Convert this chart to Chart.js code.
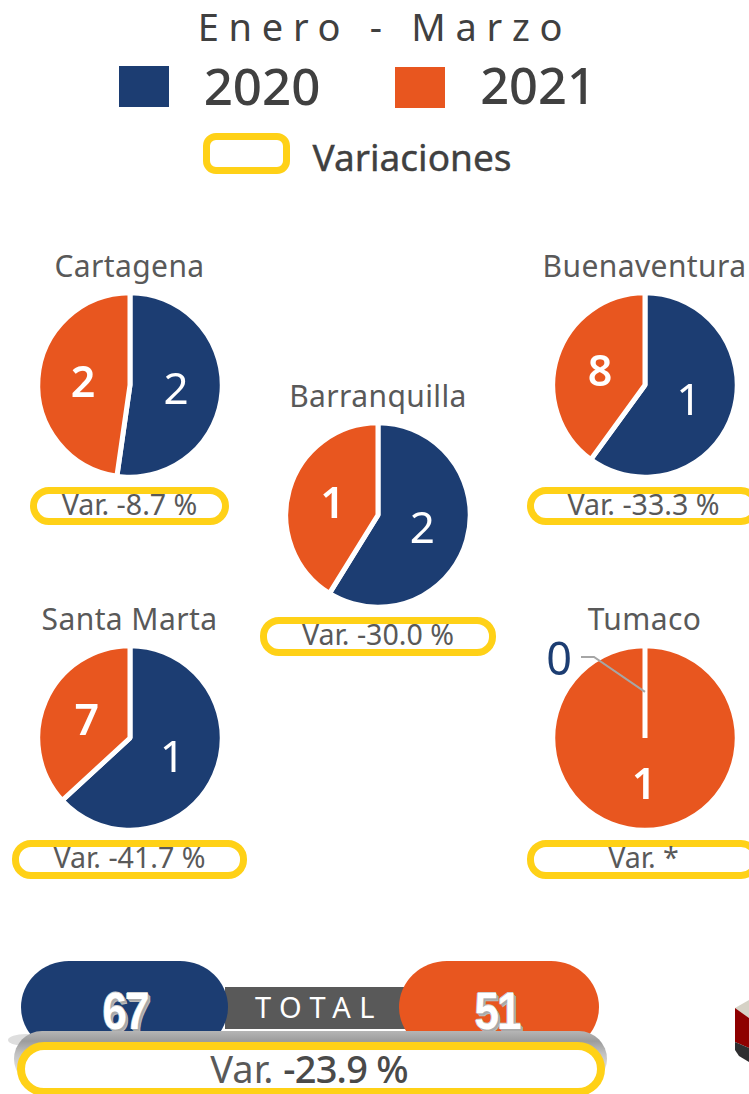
<!DOCTYPE html>
<html lang="es">
<head>
<meta charset="utf-8">
<script src="https://cdn.jsdelivr.net/npm/chart.js@4"></script>
<style>
html,body{margin:0;padding:0;background:#fff;}
body{width:749px;height:1094px;overflow:hidden;position:relative;font-family:"Noto Sans",sans-serif;}
.a{position:absolute;white-space:nowrap;}
.t{position:absolute;white-space:nowrap;transform:translateX(-50%);line-height:1;}
.pill{position:absolute;box-sizing:border-box;border:7px solid #FFD117;background:#fff;}
canvas{position:absolute;}
</style>
</head>
<body>
<script>
const cities = ["Cartagena","Barranquilla","Buenaventura","Santa Marta","Tumaco"];
const values2020 = [23,20,12,12,0];
const values2021 = [21,14,8,7,1];
const shown2020 = ["2","2","1","1","0"];
const shown2021 = ["2","1","8","7","1"];
const variations = ["Var. -8.7 %","Var. -30.0 %","Var. -33.3 %","Var. -41.7 %","Var. *"];
const seriesNames = ["2020","2021"];
const totals = [67,51];
const titleText = "Enero - Marzo";
const legendVar = "Variaciones";
const totalLabel = "TOTAL";
const totalVar = ["Var. ","-23.9 %"];

const NAVY="#1C3D72", ORANGE="#E8561F", YEL="#FFD117", INK="#404040", GREY="#595959";
const layout=[
 {cx:129.5,cy:385,ty:267,px:30,py:487,pw:199,ph:38},
 {cx:378,cy:515,ty:397,px:260,py:617,pw:236,ph:39},
 {cx:644.5,cy:385,ty:267,px:527,py:487,pw:233,ph:38},
 {cx:129.5,cy:738,ty:620,px:12,py:840,pw:235,ph:39},
 {cx:644.5,cy:738,ty:620,px:527,py:840,pw:233,ph:39}
];
function el(cls,css,txt,parent){const d=document.createElement('div');d.className=cls;d.style.cssText=css;if(txt!=null)d.textContent=txt;(parent||document.body).appendChild(d);return d;}

// header
el('t',`left:385px;top:7px;font-size:38px;color:${INK};letter-spacing:9.7px;font-weight:400;`,titleText);
el('a',`left:119px;top:66px;width:50px;height:41px;background:${NAVY};`);
el('a',`left:395px;top:67px;width:50px;height:41px;background:${ORANGE};`);
el('t',`left:262px;top:60px;font-size:51px;color:${INK};font-weight:500;`,seriesNames[0]);
el('t',`left:538px;top:60px;font-size:50.5px;color:${INK};font-weight:500;`,seriesNames[1]);
el('pill',`left:203px;top:133px;width:87px;height:41px;border-radius:13px;`);
el('t',`left:412px;top:138px;font-size:37px;color:${INK};font-weight:400;-webkit-text-stroke:.4px ${INK};`,legendVar);

// city blocks
const labelPlugin={id:'sliceLabels',afterDatasetsDraw(chart,args,opts){
  const c=chart.ctx,arcs=chart.getDatasetMeta(0).data;
  c.save();c.textAlign='center';c.textBaseline='middle';
  arcs.forEach((arc,i)=>{
    const p=arc.getCenterPoint();
    const zero=chart.data.datasets[0].data[i]===0;
    if(zero){
      c.strokeStyle='#A6A6A6';c.lineWidth=2;c.beginPath();
      c.moveTo(p.x,p.y);c.lineTo(p.x-51,p.y-35);c.lineTo(p.x-64,p.y-35);c.stroke();
      c.fillStyle=NAVY;c.font='400 45px "Noto Sans"';
      c.fillText(opts.shown[i],p.x-86,p.y-30);
    }else{
      c.fillStyle='#fff';
      c.font=(i===1?'600 43px':'400 44px')+' "Noto Sans"';
      c.fillText(opts.shown[i],p.x-(i===1?1:0),p.y+3);
    }
  });
  c.restore();
}};
const SIZE=196;
cities.forEach((name,i)=>{
  const L=layout[i];
  el('t',`left:${L.cx}px;top:${L.ty-16}px;font-size:30px;letter-spacing:.4px;color:${GREY};`,name);
  const cv=document.createElement('canvas');
  cv.width=SIZE;cv.height=SIZE;
  cv.style.cssText=`left:${L.cx-SIZE/2}px;top:${L.cy-SIZE/2}px;width:${SIZE}px;height:${SIZE}px;`;
  document.body.appendChild(cv);
  new Chart(cv,{type:'pie',
    data:{labels:seriesNames,datasets:[{data:[values2020[i],values2021[i]],backgroundColor:[NAVY,ORANGE],borderColor:'#fff',borderWidth:5,hoverOffset:0}]},
    options:{responsive:false,animation:false,layout:{padding:3.25},
      plugins:{legend:{display:false},tooltip:{enabled:false},sliceLabels:{shown:[shown2020[i],shown2021[i]]}}},
    plugins:[labelPlugin]});
  el('pill',`left:${L.px}px;top:${L.py}px;width:${L.pw}px;height:${L.ph}px;border-radius:19px;`);
  el('t',`left:${L.px+L.pw/2}px;top:${L.py+3}px;font-size:28.6px;color:${GREY};`,variations[i]);
});

// total band
el('a',`left:225px;top:987px;width:180px;height:42px;background:#595959;`);
el('a',`left:21px;top:961px;width:207px;height:92px;background:${NAVY};border-radius:48px/46px;`);
el('a',`left:399px;top:961px;width:200px;height:92px;background:${ORANGE};border-radius:48px/46px;`);
el('t',`left:319px;top:992px;font-size:29px;color:#fff;letter-spacing:8.6px;font-weight:400;`,totalLabel);
const shadow='1px 1px 0 #A9A9A9,2px 2px 0 #A9A9A9,3px 3px 0 #BDBDBD,-1px 0 0 #BDBDBD,0 -1px 0 #D0D0D0';
function bigNum(x,v){const d=el('t',`left:${x}px;top:985px;font-family:'Liberation Sans';font-weight:700;font-size:52px;letter-spacing:-2.5px;color:#fff;text-shadow:${shadow};`,String(v));d.style.transform='translateX(-50%) scaleX(.85)';}
bigNum(124.5,totals[0]);
bigNum(497,totals[1]);
el('a',`left:8px;top:1034px;width:36px;height:12px;border-radius:50%;background:#DEDEDE;`);
el('a',`left:14px;top:1031px;width:593px;height:56px;border-radius:30px;background:linear-gradient(#B5B5B5,#9C9C9C 18%,#C0C0C0 40%,#E0E0E0 70%,#F4F4F4);`);
el('a',`left:225px;top:1029px;width:175px;height:2px;background:#fff;`);
el('pill',`left:17px;top:1042px;width:588px;height:54px;border-radius:27px;border-width:8px;`);
const tv=el('t',`left:309px;top:1049px;font-size:38px;color:${GREY};`,null);
const s1=document.createElement('span');s1.textContent=totalVar[0];
const s2=document.createElement('span');s2.textContent=totalVar[1];s2.style.cssText='font-weight:500;color:#4A4A4A;letter-spacing:-.8px;';
tv.append(s1,s2);

// clipped picture at the right edge
document.body.insertAdjacentHTML('beforeend',`<svg class="a" style="left:730px;top:995px" width="19" height="70" viewBox="730 995 19 70" aria-hidden="true">
<polygon points="735,1008 749,1000 749,1018" fill="#D6D2C6"/>
<polygon points="735,1008 749,1018 749,1048 735,1042" fill="#8E0000"/>
<polygon points="735,1042 749,1048 749,1062 739,1056 735,1050" fill="#2E2E30"/></svg>`);
</script>
</body>
</html>
